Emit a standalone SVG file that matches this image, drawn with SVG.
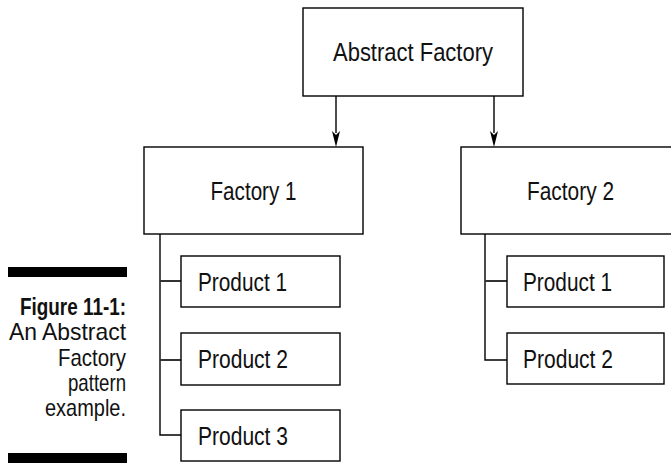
<svg xmlns="http://www.w3.org/2000/svg" width="671" height="463" viewBox="0 0 671 463">
  <style>
    .box { fill: #fff; stroke: #000; stroke-width: 1.4; }
    .lbl { font-family: "Liberation Sans Narrow", "Liberation Sans", Arial, sans-serif; font-size: 25px; fill: #111; }
    .mid { text-anchor: middle; }
    .cap { font-family: "Liberation Sans Narrow", "Liberation Sans", Arial, sans-serif; font-size: 24px; fill: #111; text-anchor: end; }
    .capb { font-weight: bold; }
    .line { fill: none; stroke: #000; stroke-width: 1.4; }
    .branch { fill: none; stroke: #333; stroke-width: 2; }
    .head { fill: #000; }
  </style>
  <rect width="671" height="463" fill="#fff"/>

  <g id="caption">
    <rect x="8" y="267" width="119" height="10" fill="#000"/>
    <rect x="8" y="453" width="119" height="10" fill="#000"/>
    <text class="cap capb" x="126" y="315" textLength="106" lengthAdjust="spacingAndGlyphs">Figure 11-1:</text>
    <text class="cap" x="126" y="340" textLength="117" lengthAdjust="spacingAndGlyphs">An Abstract</text>
    <text class="cap" x="126" y="365.5" textLength="68" lengthAdjust="spacingAndGlyphs">Factory</text>
    <text class="cap" x="126" y="391" textLength="58" lengthAdjust="spacingAndGlyphs">pattern</text>
    <text class="cap" x="126" y="416" textLength="81" lengthAdjust="spacingAndGlyphs">example.</text>
  </g>

  <g id="connectors">
    <line class="line" x1="336" y1="96" x2="336" y2="133"/>
    <path class="head" d="M332,131 L336,135 L340,131 L336,147 Z"/>
    <line class="line" x1="494" y1="96" x2="494" y2="133"/>
    <path class="head" d="M490,131 L494,135 L498,131 L494,147 Z"/>
    <path class="line" d="M160,234 V435 H181"/>
    <path class="branch" d="M160,281 H181 M160,360 H181"/>
    <path class="line" d="M485,234 V360 H507"/>
    <path class="branch" d="M485,281 H507"/>
  </g>

  <g id="abstract-factory">
    <rect class="box" x="303" y="8" width="220" height="88"/>
    <text class="lbl mid" x="413" y="61" textLength="160" lengthAdjust="spacingAndGlyphs">Abstract Factory</text>
  </g>

  <g id="factory-1">
    <rect class="box" x="144" y="147" width="219" height="87"/>
    <text class="lbl mid" x="253.5" y="199.5" textLength="86" lengthAdjust="spacingAndGlyphs">Factory 1</text>
  </g>

  <g id="factory-2">
    <rect class="box" x="461" y="147" width="219" height="87"/>
    <text class="lbl mid" x="570.5" y="199.5" textLength="87" lengthAdjust="spacingAndGlyphs">Factory 2</text>
  </g>

  <g id="f1-product-1">
    <rect class="box" x="181" y="256" width="159" height="51"/>
    <text class="lbl" x="198" y="291" textLength="89" lengthAdjust="spacingAndGlyphs">Product 1</text>
  </g>
  <g id="f1-product-2">
    <rect class="box" x="181" y="333" width="159" height="52"/>
    <text class="lbl" x="198" y="368" textLength="90" lengthAdjust="spacingAndGlyphs">Product 2</text>
  </g>
  <g id="f1-product-3">
    <rect class="box" x="181" y="410" width="159" height="51"/>
    <text class="lbl" x="198" y="444.5" textLength="90" lengthAdjust="spacingAndGlyphs">Product 3</text>
  </g>

  <g id="f2-product-1">
    <rect class="box" x="507" y="256" width="157" height="51"/>
    <text class="lbl" x="523" y="291" textLength="89" lengthAdjust="spacingAndGlyphs">Product 1</text>
  </g>
  <g id="f2-product-2">
    <rect class="box" x="507" y="333" width="157" height="51"/>
    <text class="lbl" x="523" y="367.5" textLength="90" lengthAdjust="spacingAndGlyphs">Product 2</text>
  </g>
</svg>
